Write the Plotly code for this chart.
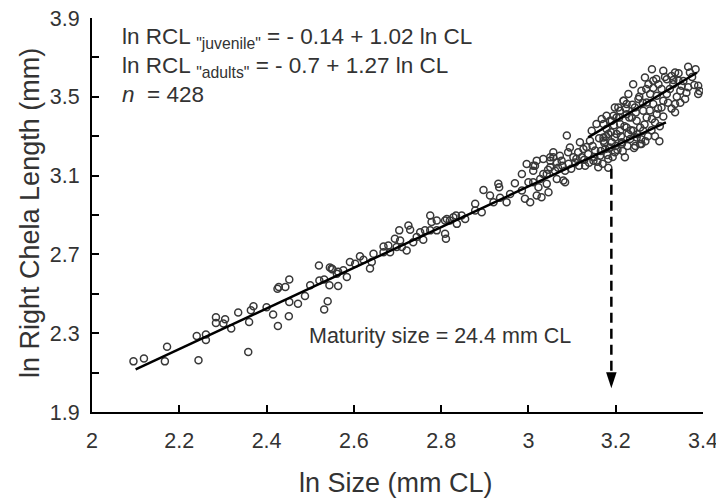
import plotly.graph_objects as go

# ---------------- data ----------------
# observed points: (ln size, ln right chela length)
obs = [
    (2.095, 2.157), (2.119, 2.172), (2.167, 2.157), (2.172, 2.231), (2.244, 2.163),
    (2.240, 2.286), (2.261, 2.293), (2.261, 2.265), (2.284, 2.381), (2.284, 2.352),
    (2.305, 2.371), (2.301, 2.349), (2.319, 2.324), (2.335, 2.405), (2.358, 2.205),
    (2.360, 2.357), (2.364, 2.416), (2.370, 2.437), (2.400, 2.432), (2.415, 2.395),
    (2.426, 2.337), (2.425, 2.526), (2.428, 2.534), (2.443, 2.534), (2.452, 2.573),
    (2.451, 2.386), (2.452, 2.459), (2.472, 2.450), (2.488, 2.489), (2.500, 2.543),
    (2.520, 2.644), (2.521, 2.567), (2.532, 2.573), (2.532, 2.420), (2.540, 2.462),
    (2.544, 2.543), (2.545, 2.633), (2.551, 2.624), (2.564, 2.540), (2.564, 2.612),
    (2.549, 2.628), (2.561, 2.602), (2.576, 2.619), (2.584, 2.585), (2.591, 2.661),
    (2.603, 2.653), (2.614, 2.690), (2.622, 2.673), (2.637, 2.628), (2.641, 2.661),
    (2.645, 2.703), (2.668, 2.740), (2.668, 2.711), (2.679, 2.745), (2.683, 2.711),
    (2.694, 2.779), (2.698, 2.737), (2.704, 2.822), (2.706, 2.771), (2.710, 2.737),
    (2.721, 2.720), (2.725, 2.847), (2.729, 2.825), (2.736, 2.762), (2.744, 2.788),
    (2.752, 2.813), (2.759, 2.774), (2.763, 2.822), (2.775, 2.897), (2.775, 2.822),
    (2.778, 2.864), (2.790, 2.872), (2.790, 2.822), (2.809, 2.805), (2.811, 2.779),
    (2.809, 2.872), (2.820, 2.872), (2.834, 2.897), (2.836, 2.855), (2.813, 2.880),
    (2.828, 2.889), (2.847, 2.897), (2.855, 2.880), (2.878, 2.957), (2.878, 2.923),
    (2.893, 2.914), (2.897, 3.027), (2.912, 2.999), (2.920, 2.965), (2.931, 3.058),
    (2.933, 3.041), (2.935, 2.987), (2.950, 2.965), (2.958, 3.007), (2.969, 3.061),
    (2.985, 3.108), (2.985, 3.024), (2.992, 2.982), (2.996, 3.159), (3.000, 3.066),
    (3.004, 2.965), (3.011, 3.125), (3.011, 3.066), (3.015, 3.150), (3.019, 2.999),
    (3.023, 3.041), (3.027, 3.083), (3.030, 2.990), (3.034, 3.108), (3.042, 3.058),
    (3.046, 3.015), (3.050, 3.142), (3.050, 3.176), (3.057, 3.193), (3.061, 3.125),
    (3.065, 3.083), (3.011, 3.150), (3.019, 3.176), (3.034, 3.184), (3.042, 3.108),
    (3.050, 3.193), (3.057, 3.218), (3.065, 3.167), (3.072, 3.201), (3.076, 3.176),
    (3.080, 3.075), (3.084, 3.125), (3.088, 3.303), (3.091, 3.218), (3.095, 3.243),
    (3.103, 3.193), (3.107, 3.167), (3.114, 3.218), (3.118, 3.269), (3.122, 3.193),
    (3.126, 3.235), (3.130, 3.150), (3.137, 3.210), (3.141, 3.277), (3.145, 3.328),
    (3.149, 3.176), (3.153, 3.227), (3.156, 3.362), (3.160, 3.142), (3.164, 3.201),
    (3.168, 3.387), (3.172, 3.294), (3.176, 3.235), (3.179, 3.336), (3.183, 3.184),
    (3.187, 3.378), (3.191, 3.269), (3.195, 3.404), (3.198, 3.218), (3.202, 3.311),
    (3.206, 3.446), (3.210, 3.362), (3.214, 3.260), (3.218, 3.480), (3.221, 3.193),
    (3.225, 3.412), (3.229, 3.311), (3.283, 3.640), (3.309, 3.632), (3.336, 3.623),
    (3.366, 3.652), (3.370, 3.623), (3.389, 3.556), (3.389, 3.514), (3.366, 3.548),
    (3.240, 3.564), (3.267, 3.598), (3.275, 3.564), (3.286, 3.581), (3.298, 3.564),
    (3.317, 3.589), (3.328, 3.606), (3.344, 3.581), (3.351, 3.556), (3.332, 3.564),
    (3.348, 3.531), (3.359, 3.489), (3.336, 3.463), (3.336, 3.421), (3.317, 3.514),
    (3.309, 3.480), (3.305, 3.446), (3.294, 3.505), (3.286, 3.463), (3.279, 3.514),
    (3.271, 3.471), (3.263, 3.429), (3.259, 3.531), (3.252, 3.489), (3.244, 3.446),
    (3.237, 3.395), (3.229, 3.514), (3.225, 3.463), (3.218, 3.480), (3.210, 3.429),
    (3.202, 3.395), (3.198, 3.446), (3.191, 3.378), (3.179, 3.404), (3.172, 3.362),
    (3.271, 3.395), (3.283, 3.387), (3.294, 3.412), (3.248, 3.378), (3.256, 3.344),
    (3.240, 3.328), (3.225, 3.344), (3.210, 3.328), (3.198, 3.294), (3.183, 3.311),
    (3.172, 3.277), (3.214, 3.269), (3.233, 3.286), (3.248, 3.294), (3.263, 3.328),
    (3.187, 3.243), (3.256, 3.260), (3.084, 3.066), (3.183, 3.140), (3.259, 3.260),
    (3.045, 3.130), (3.068, 3.140), (3.078, 3.150), (3.092, 3.160), (3.098, 3.135),
    (3.110, 3.185), (3.116, 3.150), (3.128, 3.180), (3.133, 3.245), (3.139, 3.165),
    (3.147, 3.250), (3.151, 3.195), (3.158, 3.170), (3.162, 3.290), (3.166, 3.225),
    (3.170, 3.160), (3.174, 3.265), (3.178, 3.300), (3.181, 3.205), (3.185, 3.240),
    (3.189, 3.320), (3.193, 3.195), (3.196, 3.355), (3.200, 3.250), (3.204, 3.230),
    (3.208, 3.395), (3.212, 3.300), (3.216, 3.225), (3.220, 3.350), (3.223, 3.440),
    (3.227, 3.250), (3.231, 3.395), (3.235, 3.330), (3.238, 3.460), (3.242, 3.240),
    (3.246, 3.420), (3.250, 3.310), (3.254, 3.500), (3.258, 3.285), (3.262, 3.470),
    (3.266, 3.360), (3.270, 3.540), (3.274, 3.300), (3.278, 3.430), (3.282, 3.330),
    (3.286, 3.545), (3.290, 3.370), (3.293, 3.590), (3.297, 3.440), (3.301, 3.350),
    (3.305, 3.540), (3.309, 3.400), (3.313, 3.600), (3.320, 3.470), (3.324, 3.540),
    (3.328, 3.440), (3.332, 3.585), (3.340, 3.500), (3.344, 3.620), (3.348, 3.470),
    (3.355, 3.580), (3.362, 3.520), (3.375, 3.600), (3.380, 3.560), (3.383, 3.640),
    (3.392, 3.530), (3.245, 3.250), (3.268, 3.275), (3.290, 3.300), (3.300, 3.275),
]
ln_cl = [p[0] for p in obs]
ln_rcl = [p[1] for p in obs]

juvenile_line_x = [2.10, 3.315]
juvenile_line_y = [2.116, 3.370]
adult_line_x = [3.137, 3.386]
adult_line_y = [3.294, 3.622]

maturity_x = 3.19
arrow_top_y = 3.135
arrow_tip_y = 2.02

x_ticks = [2.0, 2.2, 2.4, 2.6, 2.8, 3.0, 3.2, 3.4]
x_tick_text = ["2", "2.2", "2.4", "2.6", "2.8", "3", "3.2", "3.4"]

x_title = "ln Size (mm CL)"
y_title = "ln Right Chela Length (mm)"

FONT = "Liberation Sans, Arial, sans-serif"
TXT = "#333333"

# plot area in pixels: x 92..703, y 18..412
L, R, T, B = 92, 703, 18, 412
PW, PH = R - L, B - T


def px(xp):
    return (xp - L) / PW


def py(yp):
    return (B - yp) / PH


fig = go.Figure()
fig.add_trace(go.Scatter(
    x=ln_cl, y=ln_rcl, mode="markers", showlegend=False,
    marker=dict(symbol="circle-open", size=7, color="#383838", line=dict(width=1.5)),
))
fig.add_trace(go.Scatter(x=juvenile_line_x, y=juvenile_line_y, mode="lines",
                         showlegend=False, line=dict(color="black", width=2.5)))
fig.add_trace(go.Scatter(x=adult_line_x, y=adult_line_y, mode="lines",
                         showlegend=False, line=dict(color="black", width=2.5)))
# dashed maturity line with arrow head
fig.add_trace(go.Scatter(x=[maturity_x, maturity_x], y=[arrow_top_y, arrow_tip_y + 0.05],
                         mode="lines", showlegend=False,
                         line=dict(color="black", width=2.5, dash="10px,6px")))
fig.add_trace(go.Scatter(x=[maturity_x], y=[arrow_tip_y], mode="markers", showlegend=False,
                         marker=dict(symbol="arrow", angle=180, size=17, color="black",
                                     line=dict(width=0))))

fig.add_annotation(x=2.797, y=2.285, xref="x", yref="y", text="Maturity size = 24.4 mm CL",
                   showarrow=False, xanchor="center", yanchor="middle",
                   font=dict(family=FONT, size=21.5, color=TXT))

eq_lines = [
    ('ln RCL <sub>"juvenile"</sub> = - 0.14 + 1.02 ln CL', 38),
    ('ln RCL <sub>"adults"</sub> = - 0.7 + 1.27 ln CL', 67),
    ('<i>n</i>  = 428', 95),
]
for txt, yp in eq_lines:
    fig.add_annotation(x=px(120), y=py(yp), xref="paper", yref="paper",
                       text=txt, showarrow=False, xanchor="left", yanchor="middle",
                       font=dict(family=FONT, size=22.5, color=TXT))

# axis titles
fig.add_annotation(x=px(396), y=py(483), xref="paper", yref="paper", text=x_title,
                   showarrow=False, xanchor="center", yanchor="middle",
                   font=dict(family=FONT, size=27, color=TXT))
fig.add_annotation(x=px(30), y=py(213), xref="paper", yref="paper", text=y_title,
                   textangle=-90, showarrow=False, xanchor="center", yanchor="middle",
                   font=dict(family=FONT, size=27, color=TXT))

fig.update_layout(
    width=716, height=500,
    margin=dict(l=L, r=716 - R, t=T, b=500 - B),
    plot_bgcolor="white", paper_bgcolor="white",
    font=dict(family=FONT, color=TXT),
    xaxis=dict(
        range=[2.0, 3.4], tickmode="array", tickvals=x_ticks, ticktext=x_tick_text,
        ticks="inside", ticklen=7, tickwidth=2, tickcolor="black", automargin=False,
        showline=True, linecolor="black", linewidth=2, showgrid=False, zeroline=False,
        tickfont=dict(family=FONT, size=21.5, color=TXT), ticklabelstandoff=8,
        ticklabeloverflow="allow",
    ),
    yaxis=dict(
        range=[1.9, 3.9], tickmode="linear", tick0=1.9, dtick=0.4, tickformat=".1f",
        ticks="inside", ticklen=7, tickwidth=2, tickcolor="black", automargin=False,
        minor=dict(tick0=1.9, dtick=0.2, ticks="inside", ticklen=7, tickwidth=2, tickcolor="black"),
        showline=True, linecolor="black", linewidth=2, showgrid=False, zeroline=False,
        tickfont=dict(family=FONT, size=21.5, color=TXT), ticklabelstandoff=6,
        ticklabeloverflow="allow",
    ),
)

fig.write_html("out.html")
